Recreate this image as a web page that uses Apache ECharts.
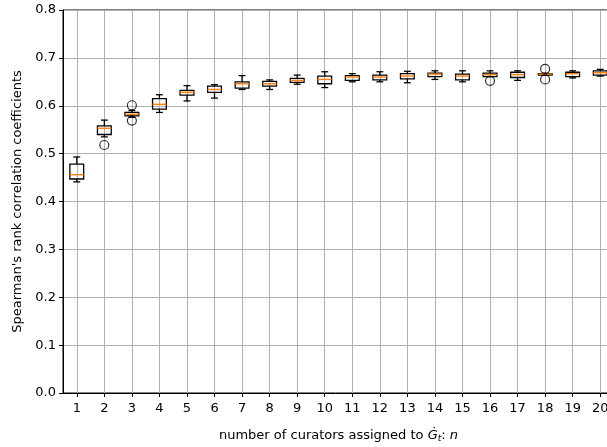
<!DOCTYPE html>
<html>
<head>
<meta charset="utf-8">
<script src="https://cdn.jsdelivr.net/npm/echarts@6/dist/echarts.min.js"></script>
<style>html,body{margin:0;padding:0;background:#fff;overflow:hidden}#c{width:607px;height:447px}</style>
</head>
<body>
<div id="c"></div>
<script>
const categories = [1,2,3,4,5,6,7,8,9,10,11,12,13,14,15,16,17,18,19,20];
// [lower whisker, Q1, median, Q3, upper whisker]
const whiskerLow = [0.441,0.535,0.576,0.586,0.610,0.616,0.634,0.634,0.645,0.638,0.650,0.650,0.648,0.655,0.650,0.661,0.653,0.664,0.658,0.662];
const q1        = [0.447,0.540,0.579,0.593,0.622,0.628,0.637,0.641,0.649,0.646,0.653,0.654,0.656,0.661,0.654,0.661,0.659,0.664,0.661,0.664];
const median    = [0.456,0.553,0.582,0.603,0.628,0.634,0.646,0.646,0.653,0.655,0.660,0.660,0.662,0.666,0.662,0.665,0.665,0.666,0.667,0.669];
const q3        = [0.478,0.558,0.586,0.615,0.632,0.641,0.650,0.651,0.657,0.662,0.663,0.664,0.667,0.668,0.666,0.668,0.670,0.667,0.670,0.673];
const whiskerHigh=[0.493,0.570,0.590,0.623,0.642,0.644,0.663,0.654,0.664,0.671,0.667,0.671,0.672,0.673,0.673,0.673,0.673,0.668,0.673,0.676];
const outliers = [[2,0.518],[3,0.601],[3,0.569],[16,0.652],[18,0.677],[18,0.655]];
const yTicks = [0,0.1,0.2,0.3,0.4,0.5,0.6,0.7,0.8];

const boxData = categories.map((c,i)=>[c, whiskerLow[i], q1[i], median[i], q3[i], whiskerHigh[i]]);

const chart = echarts.init(document.getElementById('c'), null, {renderer:'canvas'});
const font = 'DejaVu Sans';
chart.setOption({
  animation:false,
  backgroundColor:'#fff',
  grid:{left:63, top:10, width:551, height:383, outerBoundsMode:'none', containLabel:false, show:true, borderColor:'#000', borderWidth:1, backgroundColor:'transparent'},
  xAxis:{
    type:'value', min:0.5, max:20.5,
    axisLine:{show:true, onZero:false, lineStyle:{color:'#000', width:1}},
    axisTick:{show:true, customValues:categories, length:4, lineStyle:{color:'#000'}},
    axisLabel:{customValues:categories, color:'#000', fontFamily:font, fontSize:13, margin:9, hideOverlap:false},
    splitLine:{show:true, lineStyle:{color:'#b0b0b0', width:1}},
    name:'{a|number of curators assigned to }{i|Ġ}{s|t}{a|: }{i|n}',
    nameLocation:'middle', nameGap:35,
    nameTextStyle:{rich:{
      a:{fontFamily:font, fontSize:13, color:'#000'},
      i:{fontFamily:font, fontSize:13, fontStyle:'italic', color:'#000'},
      s:{fontFamily:font, fontSize:9, fontStyle:'italic', color:'#000', verticalAlign:'bottom', padding:[6,0,0,0]}
    }}
  },
  yAxis:{
    type:'value', min:0, max:0.8, interval:0.1,
    axisLine:{show:true, lineStyle:{color:'#000', width:1}},
    axisTick:{show:true, length:4, lineStyle:{color:'#000'}},
    axisLabel:{color:'#000', fontFamily:font, fontSize:13, margin:7, formatter:v=>v.toFixed(1)},
    splitLine:{show:true, lineStyle:{color:'#b0b0b0', width:1}},
    name:"Spearman's rank correlation coefficients", nameLocation:'middle', nameGap:38,
    nameTextStyle:{fontFamily:font, fontSize:13, color:'#000'}
  },
  series:[
    {
      type:'custom',
      data:boxData,
      encode:{x:0, y:[1,2,3,4,5]},
      renderItem:function(params, api){
        const x = api.value(0);
        const bw = api.size([0.5,0])[0];
        const cw = bw/2;
        const pLow = api.coord([x, api.value(1)]);
        const pQ1 = api.coord([x, api.value(2)]);
        const pMed = api.coord([x, api.value(3)]);
        const pQ3 = api.coord([x, api.value(4)]);
        const pHigh = api.coord([x, api.value(5)]);
        const cx = pQ1[0];
        const st = {stroke:'#000', lineWidth:1.3, fill:null};
        return {type:'group', children:[
          {type:'line', shape:{x1:cx,y1:pQ1[1],x2:cx,y2:pLow[1]}, style:st},
          {type:'line', shape:{x1:cx,y1:pQ3[1],x2:cx,y2:pHigh[1]}, style:st},
          {type:'line', shape:{x1:cx-cw/2,y1:pLow[1],x2:cx+cw/2,y2:pLow[1]}, style:st},
          {type:'line', shape:{x1:cx-cw/2,y1:pHigh[1],x2:cx+cw/2,y2:pHigh[1]}, style:st},
          {type:'rect', shape:{x:cx-bw/2, y:pQ3[1], width:bw, height:pQ1[1]-pQ3[1]}, style:{stroke:'#000', lineWidth:1.3, fill:'none'}},
          {type:'line', shape:{x1:cx-bw/2,y1:pMed[1],x2:cx+bw/2,y2:pMed[1]}, style:{stroke:'#ff7f0e', lineWidth:1.4}}
        ]};
      },
      z:3
    },
    {
      type:'scatter',
      data:outliers,
      symbol:'circle', symbolSize:9,
      itemStyle:{color:'rgba(0,0,0,0)', borderColor:'#000', borderWidth:1.2},
      z:4
    }
  ]
});
</script>
</body>
</html>
